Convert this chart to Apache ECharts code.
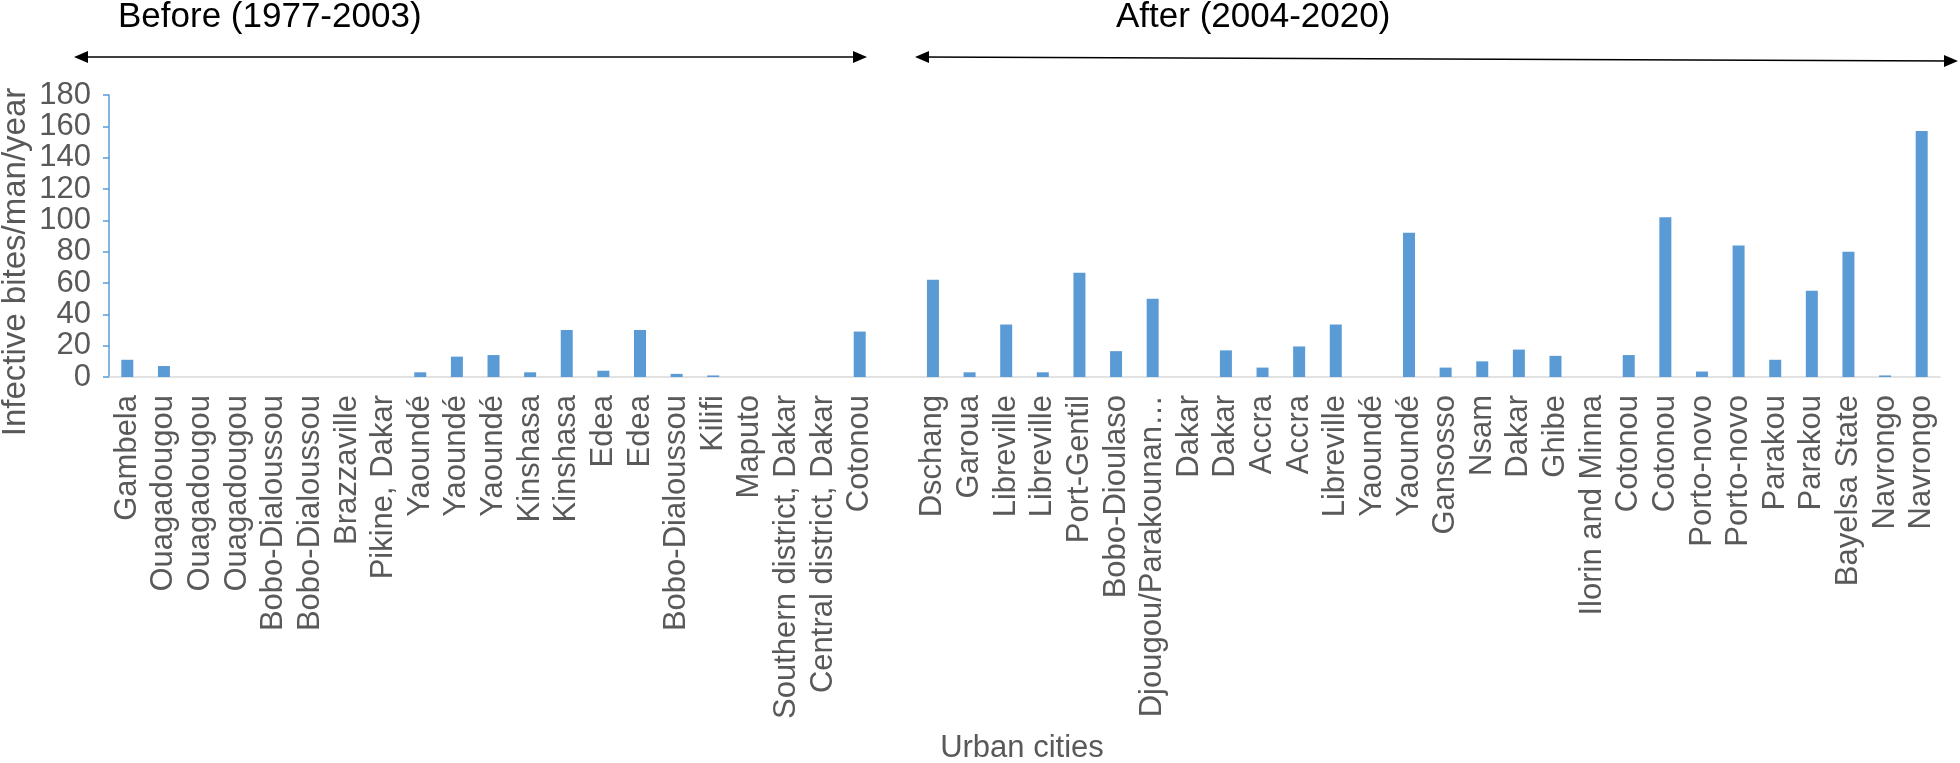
<!DOCTYPE html>
<html>
<head>
<meta charset="utf-8">
<script src="https://cdn.jsdelivr.net/npm/echarts@6/dist/echarts.min.js"></script>
<style>
html,body{margin:0;padding:0;background:#fff;}
#chart{width:1960px;height:763px;}
</style>
</head>
<body>
<div id="chart"></div>
<script>
// ---- data ----
const beforeCities = ["Gambela","Ouagadougou","Ouagadougou","Ouagadougou","Bobo-Dialoussou","Bobo-Dialoussou","Brazzaville","Pikine, Dakar","Yaoundé","Yaoundé","Yaoundé","Kinshasa","Kinshasa","Edea","Edea","Bobo-Dialoussou","Kilifi","Maputo","Southern district, Dakar","Central district, Dakar","Cotonou"];
const beforeValues = [11, 7, 0, 0, 0, 0, 0, 0, 3, 13, 14, 3, 30, 4, 30, 2, 1, 0, 0, 0, 29];
const gapCategory = [""];
const gapValue = [null];
const afterCities = ["Dschang","Garoua","Libreville","Libreville","Port-Gentil","Bobo-Dioulaso","Djougou/Parakounan…","Dakar","Dakar","Accra","Accra","Libreville","Yaoundé","Yaoundé","Gansosso","Nsam","Dakar","Ghibe","Ilorin and Minna","Cotonou","Cotonou","Porto-novo","Porto-novo","Parakou","Parakou","Bayelsa State","Navrongo","Navrongo"];
const afterValues = [62, 3, 33.5, 3, 66.5, 16.5, 50, 0, 17, 6, 19.5, 33.5, 0, 92, 6, 10, 17.5, 13.5, 0, 14, 102, 3.5, 84, 11, 55, 80, 1, 157];
const yTicks = {min: 0, max: 180, interval: 20};
const beforeLabel = "Before (1977-2003)";
const afterLabel = "After (2004-2020)";
const yTitle = "Infective bites/man/year";
const xTitle = "Urban cities";

const categories = beforeCities.concat(gapCategory, afterCities);
const values = beforeValues.concat(gapValue, afterValues);

const FONT = "'Liberation Sans', Arial, sans-serif";
const TXT = "#595959";
const BLUE = "#5b9bd5";

function arrowHead(tipX, tipY, dir, color) {
  const len = 14, half = 6;
  return {
    type: 'polygon',
    shape: {points: [[tipX, tipY], [tipX - dir * len, tipY - half], [tipX - dir * len, tipY + half]]},
    style: {fill: color},
    silent: true
  };
}

const chart = echarts.init(document.getElementById('chart'), null, {renderer: 'canvas'});
chart.setOption({
  backgroundColor: '#ffffff',
  animation: false,
  grid: {left: 109, right: 20, top: 95, bottom: 386, containLabel: false},
  xAxis: {
    type: 'category',
    data: categories,
    axisLine: {show: true, lineStyle: {color: '#d9d9d9', width: 1.5}},
    axisTick: {show: false},
    axisLabel: {
      interval: 0, rotate: 90, margin: 18,
      color: TXT, fontSize: 31, fontFamily: FONT
    },
    splitLine: {show: false}
  },
  yAxis: {
    type: 'value',
    min: yTicks.min, max: yTicks.max, interval: yTicks.interval,
    axisLine: {show: true, lineStyle: {color: BLUE, width: 1.5}},
    axisTick: {show: true, inside: false, length: 6, lineStyle: {color: BLUE, width: 1.5}},
    axisLabel: {color: TXT, fontSize: 31, fontFamily: FONT, margin: 18,
                showMinLabel: true, showMaxLabel: true, hideOverlap: false},
    splitLine: {show: false}
  },
  series: [{
    type: 'bar',
    data: values,
    barWidth: 12,
    itemStyle: {color: BLUE}
  }],
  graphic: [
    {type: 'text', left: 118, top: 0, style: {text: beforeLabel, fill: '#000', fontSize: 35, fontFamily: FONT}},
    {type: 'text', left: 1116, top: 0, style: {text: afterLabel, fill: '#000', fontSize: 35, fontFamily: FONT}},
    {type: 'line', shape: {x1: 80, y1: 57, x2: 860, y2: 57}, style: {stroke: '#000', lineWidth: 1.5}, silent: true},
    arrowHead(74, 57, -1, '#000'),
    arrowHead(867, 57, 1, '#000'),
    {type: 'line', shape: {x1: 921, y1: 57, x2: 1951, y2: 61}, style: {stroke: '#000', lineWidth: 1.5}, silent: true},
    arrowHead(915, 57, -1, '#000'),
    arrowHead(1958, 61, 1, '#000'),
    {type: 'text', x: 16, y: 262, rotation: Math.PI / 2,
     style: {text: yTitle, fill: TXT, fontSize: 33, fontFamily: FONT, align: 'center', verticalAlign: 'middle'}},
    {type: 'text', x: 1022, y: 748,
     style: {text: xTitle, fill: TXT, fontSize: 31, fontFamily: FONT, align: 'center', verticalAlign: 'middle'}}
  ]
});
</script>
</body>
</html>
